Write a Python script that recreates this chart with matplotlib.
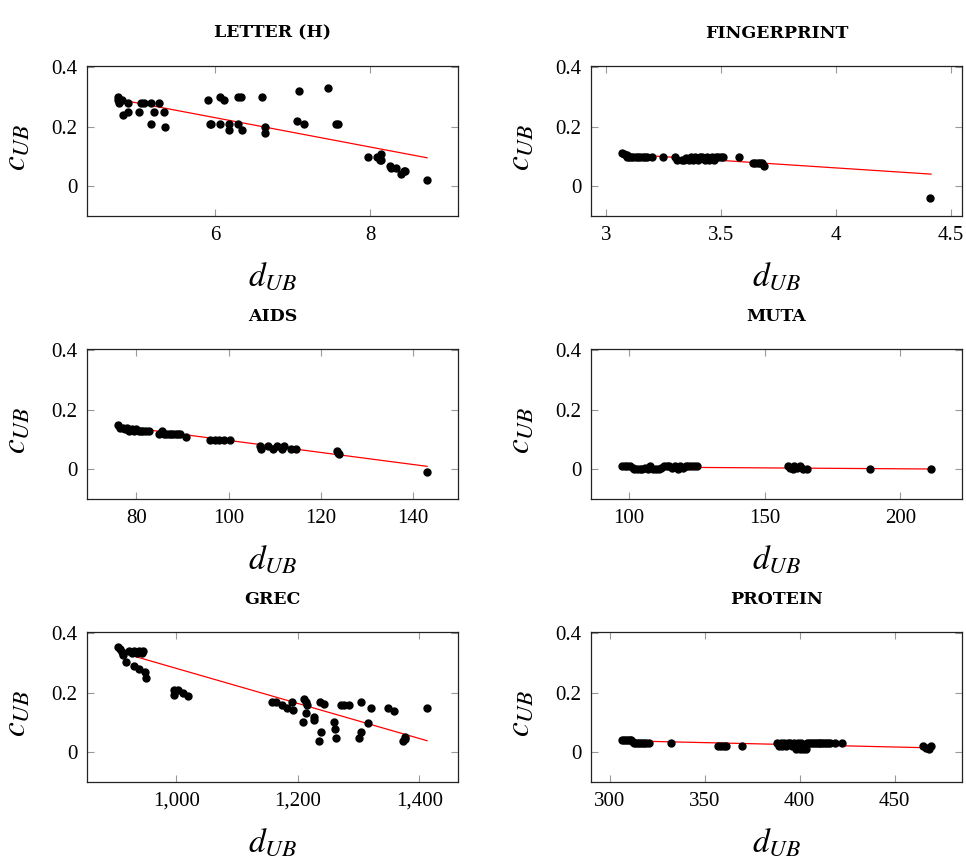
import numpy as np
from matplotlib import pyplot as plt
from matplotlib.ticker import FuncFormatter

plt.rcParams['font.family'] = ['Liberation Serif', 'DejaVu Serif']
plt.rcParams['mathtext.fontset'] = 'stix'

titles = ["LETTER (H)", "FINGERPRINT", "AIDS", "MUTA", "GREC", "PROTEIN"]

letter_x = [4.75, 4.75, 4.77, 4.80, 4.81, 4.88, 4.88, 5.02, 5.05, 5.08, 5.17, 5.17, 5.22, 5.28,
            5.34, 5.36, 5.91, 5.93, 5.95, 6.06, 6.06, 6.11, 6.18, 6.18, 6.30, 6.33, 6.30, 6.35,
            6.61, 6.64, 6.64, 7.08, 7.06, 7.15, 7.45, 7.56, 7.58, 7.97, 8.09, 8.14, 8.14, 8.13,
            8.25, 8.26, 8.33, 8.39, 8.43, 8.45, 8.73]
letter_y = [0.30, 0.29, 0.28, 0.29, 0.24, 0.28, 0.25, 0.25, 0.28, 0.28, 0.28, 0.21, 0.25, 0.28,
            0.25, 0.20, 0.29, 0.21, 0.21, 0.30, 0.21, 0.29, 0.21, 0.19, 0.30, 0.30, 0.21, 0.19,
            0.30, 0.20, 0.18, 0.32, 0.22, 0.21, 0.33, 0.21, 0.21, 0.10, 0.10, 0.11, 0.09, 0.09,
            0.07, 0.06, 0.06, 0.04, 0.05, 0.05, 0.02]
letter_fit = ([4.85, 8.73], [0.288, 0.096])

finger_x = [3.07, 3.08, 3.09, 3.09, 3.10, 3.11, 3.12, 3.13, 3.14, 3.15, 3.16, 3.17, 3.18, 3.20,
            3.25, 3.30, 3.31, 3.33, 3.34, 3.35, 3.36, 3.37, 3.38, 3.39, 3.40, 3.41, 3.42, 3.43,
            3.44, 3.45, 3.46, 3.47, 3.48, 3.49, 3.50, 3.51, 3.58, 3.64, 3.65, 3.66, 3.67, 3.68,
            3.69, 4.41]
finger_y = [0.113, 0.11, 0.105, 0.10, 0.10, 0.10, 0.10, 0.10, 0.10, 0.10, 0.10, 0.10, 0.10, 0.10,
            0.10, 0.10, 0.09, 0.09, 0.09, 0.095, 0.09, 0.10, 0.09, 0.10, 0.09, 0.10, 0.10, 0.09,
            0.10, 0.09, 0.10, 0.09, 0.10, 0.10, 0.10, 0.10, 0.10, 0.08, 0.08, 0.08, 0.08, 0.08,
            0.07, -0.04]
finger_fit = ([3.09, 4.415], [0.108, 0.041])

aids_x = [76.0, 76.4, 77, 77.5, 78, 78.5, 79, 79.5, 80, 80.5, 81, 81.5, 82, 82.8, 85, 85.5, 86,
          86.5, 87, 87.5, 88, 88.5, 89, 89.5, 90.8, 96, 97, 98, 99, 100.2, 106.7, 107, 108.5,
          109.5, 110.5, 111.5, 112, 113.5, 114.5, 123.5, 124, 123.8, 143]
aids_y = [0.15, 0.14, 0.14, 0.135, 0.14, 0.13, 0.135, 0.13, 0.135, 0.13, 0.13, 0.13, 0.13, 0.13,
          0.12, 0.13, 0.12, 0.12, 0.12, 0.12, 0.12, 0.12, 0.12, 0.12, 0.11, 0.10, 0.10, 0.10,
          0.10, 0.10, 0.08, 0.07, 0.08, 0.07, 0.08, 0.07, 0.08, 0.07, 0.07, 0.06, 0.05, 0.055,
          -0.01]
aids_fit = ([76, 143], [0.146, 0.01])

muta_x = [97.5, 98.5, 99.5, 100.5, 101.5, 102, 103, 104, 105, 106, 107, 108, 109, 110, 111, 112,
          113, 114, 115, 116, 117, 118, 119, 120, 121, 122, 123, 124, 125, 158.5, 159.5, 160.5,
          161, 162, 163, 164, 165.5, 189, 211.3]
muta_y = [0.01, 0.01, 0.01, 0.01, 0.005, 0.0, 0.0, 0.0, 0.0, 0.005, 0.0, 0.01, 0.0, 0.0, 0.0,
          0.005, 0.01, 0.01, 0.01, 0.005, 0.01, 0.0, 0.01, 0.005, 0.01, 0.01, 0.01, 0.01, 0.01,
          0.01, 0.005, 0.0, 0.01, 0.005, 0.01, 0.0, 0.0, 0.0, 0.0]
muta_fit = ([97.5, 211.3], [0.008, 0.001])

grec_x = [904, 907, 910, 912, 918, 923, 927, 931, 935, 939, 943, 945, 931, 939, 948, 950, 996,
          997, 1003, 1011, 1019, 1158, 1164, 1174, 1182, 1190, 1192, 1211, 1214, 1216, 1213,
          1209, 1227, 1227, 1238, 1235, 1236, 1244, 1259, 1262, 1263, 1271, 1277, 1285, 1304,
          1301, 1304, 1316, 1321, 1348, 1359, 1374, 1376, 1377, 1413]
grec_y = [0.353, 0.348, 0.339, 0.326, 0.303, 0.34, 0.335, 0.34, 0.335, 0.34, 0.335, 0.34, 0.292,
          0.281, 0.27, 0.25, 0.209, 0.192, 0.209, 0.198, 0.19, 0.17, 0.17, 0.159, 0.148, 0.17,
          0.142, 0.179, 0.168, 0.159, 0.131, 0.103, 0.12, 0.109, 0.07, 0.039, 0.17, 0.164, 0.103,
          0.079, 0.048, 0.159, 0.159, 0.159, 0.17, 0.048, 0.068, 0.098, 0.148, 0.148, 0.139,
          0.037, 0.045, 0.053, 0.148]
grec_fit = ([918, 1413], [0.331, 0.039])

prot_x = [306.5, 307.5, 308.5, 309.5, 310.5, 311.5, 312.5, 313, 314, 315, 316, 317, 318, 319,
          320.5, 332.4, 357, 358.5, 360, 361.5, 369.5, 388, 389, 390, 391, 392, 393, 394, 395,
          396, 397, 398, 399, 400, 401, 402, 403.5, 404, 405, 406, 407, 408, 409, 410, 411, 412,
          413, 414, 415, 416, 418.5, 422.5, 464.8, 466.5, 468.3, 469.2]
prot_y = [0.04, 0.04, 0.04, 0.04, 0.04, 0.04, 0.035, 0.03, 0.03, 0.03, 0.03, 0.03, 0.03, 0.03,
          0.03, 0.03, 0.02, 0.02, 0.02, 0.02, 0.02, 0.03, 0.02, 0.03, 0.02, 0.03, 0.02, 0.03,
          0.03, 0.02, 0.03, 0.01, 0.03, 0.01, 0.03, 0.01, 0.01, 0.03, 0.03, 0.03, 0.03, 0.03,
          0.03, 0.03, 0.03, 0.03, 0.03, 0.03, 0.03, 0.03, 0.03, 0.03, 0.02, 0.015, 0.01, 0.02]
prot_fit = ([306.5, 469.2], [0.039, 0.015])

xs = [letter_x, finger_x, aids_x, muta_x, grec_x, prot_x]
ys = [letter_y, finger_y, aids_y, muta_y, grec_y, prot_y]
fits = [letter_fit, finger_fit, aids_fit, muta_fit, grec_fit, prot_fit]
xticks = [[6, 8], [3, 3.5, 4, 4.5], [80, 100, 120, 140], [100, 150, 200],
          [1000, 1200, 1400], [300, 350, 400, 450]]

W, H = 966, 858
fig = plt.figure(figsize=(W / 100, H / 100), dpi=100)

lefts = [87, 591]
tops = [66, 349, 632]
aw, ah = 371, 150

for i in range(6):
    col = i % 2
    row = i // 2
    ax = fig.add_axes([lefts[col] / W, 1 - (tops[row] + ah) / H, aw / W, ah / H])
    ax.plot(fits[i][0], fits[i][1], color='red', lw=0.9, zorder=2)
    ax.plot(xs[i], ys[i], 'o', color='black', ms=5, zorder=3)
    ax.margins(x=0.1)
    ax.set_ylim(-0.1, 0.405)
    ax.set_yticks([0, 0.2, 0.4])
    ax.set_yticklabels(["0", "0.2", "0.4"])
    ax.set_xticks(xticks[i])
    if i == 4:
        ax.xaxis.set_major_formatter(FuncFormatter(lambda v, p: f"{v:,.0f}"))
    else:
        ax.xaxis.set_major_formatter(FuncFormatter(lambda v, p: f"{v:g}"))
    ax.tick_params(direction='in', top=True, right=True, length=5, width=0.8,
                   color='#999999', labelsize=15, pad=7)
    for s in ax.spines.values():
        s.set_linewidth(0.9)
        s.set_color('#222222')
    ax.set_xlabel("$d_{UB}$", fontsize=24)
    ax.set_ylabel("$c_{UB}$", fontsize=24)
    ax.xaxis.set_label_coords(0.5, -0.30)
    ax.yaxis.set_label_coords(-0.15, 0.46)
    ax.text(0.5, 1.22, titles[i], transform=ax.transAxes, ha='center', va='center',
            fontsize=12.5, fontweight='bold', family='DejaVu Serif')

plt.savefig("out.png", dpi=100)
plt.close()
